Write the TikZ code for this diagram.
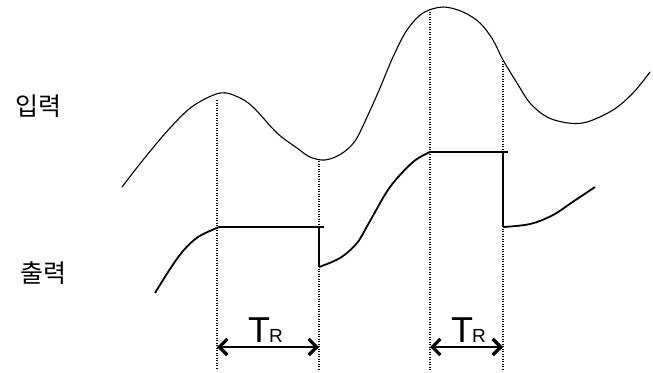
\documentclass[tikz,border=0pt]{standalone}
\usepackage{fontspec}
\setmainfont{Liberation Sans}
\newfontfamily\krfont{Noto Sans CJK KR}
\usetikzlibrary{arrows.meta}
\begin{document}
\begin{tikzpicture}[x=1pt,y=-1pt,
  inputcurve/.style={line width=1.1pt,line join=round,line cap=round},
  outputcurve/.style={line width=1.8pt,line join=round},
  guide/.style={line width=1.2pt,dash pattern=on 1.2pt off 1.3pt},
  span/.style={line width=2.8pt,{Straight Barb[length=8pt,width=16pt,line width=3.2pt]}-{Straight Barb[length=8pt,width=16pt,line width=3.2pt]}},
  lbl/.style={inner sep=0pt,font=\krfont\fontsize{25}{25}\selectfont},
  trlbl/.style={inner sep=0pt,anchor=base west}]
\useasboundingbox (0,0) rectangle (653,372);
% labels
\node[lbl] (in) at (38,106) {입력};
\node[lbl] (out) at (43,273) {출력};
% input curve
\draw[inputcurve] plot[smooth,tension=0.55] coordinates {
 (122,187) (143,160) (170,128) (193,106) (220,93) (238,97) (253,107) (277,133)
 (297,148) (310,157) (325,160) (341,154) (355,141) (368,115) (380,88) (393,57)
 (407,30) (423,13) (443,7) (463,12) (480,23) (493,40) (503,60) (517,83)
 (530,103) (547,117) (568,123) (587,122) (613,110) (633,93) (650,72)};
% guide coordinates
\coordinate (g1t) at (217,100); \coordinate (g1b) at (217,370);
\coordinate (g2t) at (319,161); \coordinate (g2b) at (319,370);
\coordinate (g3t) at (430,9);   \coordinate (g3b) at (430,370);
\coordinate (g4t) at (503,61);  \coordinate (g4b) at (503,370);
\draw[guide] (g1t) -- (g1b);
\draw[guide] (g2t) -- (g2b);
\draw[guide] (g3t) -- (g3b);
\draw[guide] (g4t) -- (g4b);
% output curve
\draw[outputcurve] plot[smooth,tension=0.55] coordinates {
 (155,293) (170,269) (183,251) (198,237) (219,227)};
\draw[outputcurve] (219,227) -- (324,227);
\draw[outputcurve] (319,227) -- (319,267);
\draw[outputcurve] plot[smooth,tension=0.55] coordinates {
 (319,267) (340,258) (357,243) (370,221) (390,187) (413,162) (430,152)};
\draw[outputcurve] (430,152) -- (508,152);
\draw[outputcurve] (503,152) -- (503,227);
\draw[outputcurve] plot[smooth,tension=0.6] coordinates {
 (503,227) (530,224) (553,215) (574,201) (595,187)};
% spans
\coordinate (a1l) at (217,347); \coordinate (a1r) at (319,347);
\coordinate (a2l) at (430,347); \coordinate (a2r) at (503,347);
\draw[span] (a1l) -- (a1r);
\draw[span] (a2l) -- (a2r);
\node[trlbl] (tr1) at (248,342) {\fontsize{36}{36}\selectfont T\kern-1pt\fontsize{19}{19}\selectfont R};
\node[trlbl] (tr2) at (451,342) {\fontsize{36}{36}\selectfont T\kern-1pt\fontsize{19}{19}\selectfont R};
\end{tikzpicture}
\end{document}
